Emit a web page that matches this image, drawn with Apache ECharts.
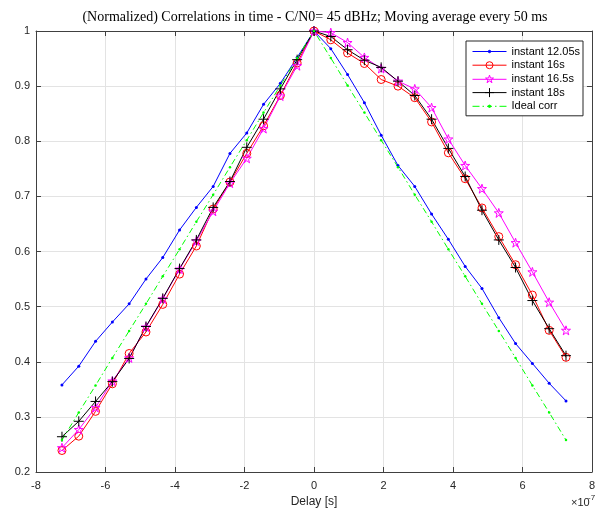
<!DOCTYPE html>
<html><head><meta charset="utf-8">
<script src="https://cdn.jsdelivr.net/npm/echarts@6/dist/echarts.min.js"></script>
<style>html,body{margin:0;padding:0;background:#fff}#c{width:598px;height:513px}</style>
</head><body><div id="c"></div>
<script>
// Delay in units of 1e-7 s
const delays = [-7.253,-6.769,-6.286,-5.802,-5.319,-4.835,-4.352,-3.868,-3.385,-2.901,-2.418,-1.934,-1.451,-0.967,-0.484,0,
  0.484,0.967,1.451,1.934,2.418,2.901,3.385,3.868,4.352,4.835,5.319,5.802,6.286,6.769,7.253];
const inst1205 = [0.358,0.392,0.437,0.472,0.505,0.550,0.589,0.639,0.680,0.718,0.778,0.815,0.867,0.905,0.952,1.0,
  0.968,0.921,0.870,0.811,0.756,0.718,0.668,0.622,0.573,0.533,0.480,0.433,0.397,0.361,0.329];
const inst16 = [0.239,0.265,0.310,0.360,0.415,0.454,0.504,0.559,0.610,0.677,0.726,0.778,0.828,0.883,0.942,1.0,
  0.984,0.960,0.941,0.912,0.900,0.879,0.835,0.779,0.732,0.679,0.627,0.576,0.521,0.457,0.408];
const inst165 = [0.244,0.277,0.317,0.365,0.407,0.463,0.514,0.568,0.619,0.673,0.724,0.769,0.823,0.882,0.937,1.0,
  0.997,0.979,0.952,0.932,0.909,0.895,0.861,0.804,0.756,0.714,0.670,0.616,0.563,0.508,0.457];
const inst18 = [0.264,0.292,0.328,0.364,0.406,0.464,0.515,0.569,0.621,0.680,0.727,0.789,0.840,0.895,0.948,1.0,
  0.990,0.966,0.947,0.934,0.909,0.883,0.840,0.787,0.736,0.675,0.621,0.571,0.511,0.460,0.411];
const idealCorr = [0.258,0.308,0.357,0.407,0.456,0.505,0.555,0.604,0.654,0.703,0.753,0.802,0.852,0.901,0.951,1.0,
  0.951,0.901,0.852,0.802,0.753,0.703,0.654,0.604,0.555,0.505,0.456,0.407,0.357,0.308,0.258];
const seriesNames = ['instant 12.05s','instant 16s','instant 16.5s','instant 18s','Ideal corr'];
const xTicks = {min:-8, max:8, interval:2};
const yTicks = {min:0.2, max:1, interval:0.1};

const zip = v => delays.map((d,i)=>[d,v[i]]);
const star = 'path://M0,-1L0.2245,-0.309L0.951,-0.309L0.363,0.118L0.588,0.809L0,0.382L-0.588,0.809L-0.363,0.118L-0.951,-0.309L-0.2245,-0.309Z';
const plus = 'path://M0,-1L0,1M-1,0L1,0';
const F = 'Liberation Sans, Arial, sans-serif';
const axCol = '#404040';

// legend icons: line + marker, drawn in a 34x9 box
const LINE = 'M0,4.5L34,4.5';
const legendIcons = [
  'path://' + LINE + 'M18.2,4.5A1.2,1.2,0,1,1,15.8,4.5A1.2,1.2,0,1,1,18.2,4.5Z',
  'path://' + LINE + 'M20.5,4.5A3.5,3.5,0,1,1,13.5,4.5A3.5,3.5,0,1,1,20.5,4.5Z',
  'path://' + LINE + 'M17,0.3L17.94,3.2L21,3.2L18.52,5L19.47,7.9L17,6.1L14.53,7.9L15.48,5L13,3.2L16.06,3.2Z',
  'path://' + LINE + 'M17,0L17,9M12.5,4.5L21.5,4.5',
  'path://M0,4.5L7,4.5M10,4.5L11.5,4.5M14.5,4.5L19.5,4.5M22.5,4.5L24,4.5M27,4.5L34,4.5M18.2,4.5A1.2,1.2,0,1,1,15.8,4.5A1.2,1.2,0,1,1,18.2,4.5Z'
];
const colors = ['#0000ff','#ff0000','#ff00ff','#000000','#00ff00'];
const hollow = [false,true,true,true,false];

const chart = echarts.init(document.getElementById('c'), null, {renderer:'canvas'});
const mk = (i, data, symbol, size, lineType) => ({
  name: seriesNames[i], type:'line', data: zip(data), symbol, symbolSize: size, showSymbol:true,
  lineStyle:{color: colors[i], width:1, type: lineType || 'solid'},
  itemStyle: hollow[i] ? {color:'rgba(0,0,0,0)', borderColor:colors[i], borderWidth:1} : {color:colors[i], borderColor:colors[i], borderWidth:0},
  emphasis:{disabled:true}, animation:false, z: 2
});
chart.setOption({
  animation:false,
  grid:{left:36, right:3, top:31, bottom:39, containLabel:false},
  xAxis:[{
    type:'value', min:xTicks.min, max:xTicks.max, interval:xTicks.interval,
    axisLine:{show:true, onZero:false, lineStyle:{color:axCol, width:1}},
    axisTick:{show:true, inside:true, length:5, lineStyle:{color:axCol}},
    axisLabel:{color:'#262626', fontFamily:F, fontSize:11, margin:8},
    splitLine:{show:true, lineStyle:{color:'#e3e3e3', width:1}},
    name:'Delay [s]', nameLocation:'middle', nameGap:24,
    nameTextStyle:{color:'#262626', fontFamily:F, fontSize:12, verticalAlign:'top'}
  },{
    type:'value', position:'top', min:xTicks.min, max:xTicks.max, interval:xTicks.interval,
    axisLine:{show:true, onZero:false, lineStyle:{color:axCol, width:1}},
    axisTick:{show:true, inside:true, length:5, lineStyle:{color:axCol}},
    axisLabel:{show:false}, splitLine:{show:false}
  }],
  yAxis:[{
    type:'value', min:yTicks.min, max:yTicks.max, interval:yTicks.interval,
    axisLine:{show:true, onZero:false, lineStyle:{color:axCol, width:1}},
    axisTick:{show:true, inside:true, length:5, lineStyle:{color:axCol}},
    axisLabel:{color:'#262626', fontFamily:F, fontSize:11, margin:6},
    splitLine:{show:true, lineStyle:{color:'#e3e3e3', width:1}}
  },{
    type:'value', position:'right', min:yTicks.min, max:yTicks.max, interval:yTicks.interval,
    axisLine:{show:true, onZero:false, lineStyle:{color:axCol, width:1}},
    axisTick:{show:true, inside:true, length:5, lineStyle:{color:axCol}},
    axisLabel:{show:false}, splitLine:{show:false}
  }],
  legend:{
    orient:'vertical', right:15, top:41, itemWidth:34, itemHeight:9, itemGap:2.7,
    padding:[5,3,4,6], backgroundColor:'#fff', borderColor:'#262626', borderWidth:1, borderRadius:0,
    symbolKeepAspect:true,
    textStyle:{fontFamily:F, fontSize:11, color:'#000', lineHeight:11},
    data: seriesNames.map((n,i)=>({name:n, icon: legendIcons[i],
      itemStyle:{color: hollow[i] ? 'rgba(0,0,0,0)' : colors[i], borderColor: colors[i], borderWidth:1}})),
    selectedMode:false
  },
  series:[
    mk(0, inst1205, 'circle', 3),
    mk(1, inst16, 'circle', 8),
    mk(2, inst165, star, 9),
    mk(3, inst18, plus, 10),
    mk(4, idealCorr, 'circle', 2.5, [6,3,1.5,3])
  ],
  graphic:[
    {type:'text', x:315, y:17, style:{text:'(Normalized) Correlations in time - C/N0= 45 dBHz; Moving average every 50 ms',
      font:'14px "Liberation Serif", "DejaVu Serif", serif', fill:'#000', align:'center', verticalAlign:'middle'}},
    {type:'text', x:571, y:503, style:{text:'×10', font:'11px '+F, fill:'#262626', align:'left', verticalAlign:'middle'}},
    {type:'text', x:588, y:498, style:{text:'-7', font:'8px '+F, fill:'#262626', align:'left', verticalAlign:'middle'}}
  ]
});
</script></body></html>
